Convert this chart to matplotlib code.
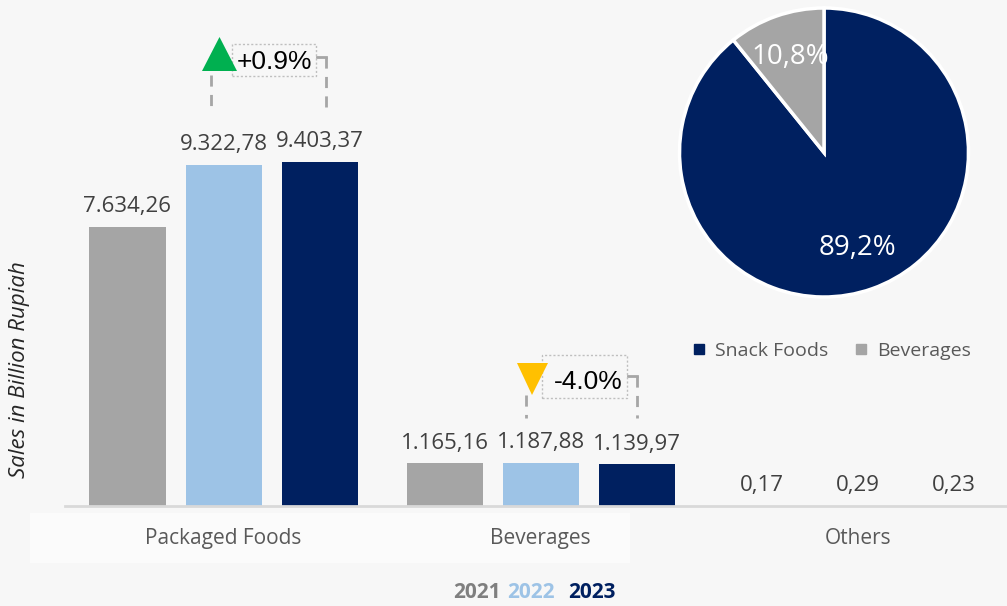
import matplotlib
matplotlib.use("Agg")
import matplotlib.pyplot as plt
from matplotlib.patches import Polygon, Rectangle
from matplotlib.lines import Line2D
import numpy as np

# ---------------- data ----------------
categories = ["Packaged Foods", "Beverages", "Others"]
years = ["2021", "2022", "2023"]
sales_2021 = [7634.26, 1165.16, 0.17]
sales_2022 = [9322.78, 1187.88, 0.29]
sales_2023 = [9403.37, 1139.97, 0.23]
pie_labels = ["Snack Foods", "Beverages"]
pie_values = [89.2, 10.8]

year_colors = ["#a5a5a5", "#9dc3e6", "#002060"]
year_text_colors = ["#7f7f7f", "#9dc3e6", "#002060"]
pie_colors = ["#002060", "#a5a5a5"]

W, H = 1007, 606
fig = plt.figure(figsize=(W / 100, H / 100), dpi=100, facecolor="#f7f7f7")


def px(x, y):
    return (x / W, 1 - y / H)


def fmt_id(v):
    s = f"{v:,.2f}"
    return s.replace(",", "X").replace(".", ",").replace("X", ".")


# light band behind category labels
fig.patches.append(Rectangle(px(30, 563), 600 / W, 50 / H, transform=fig.transFigure,
                             facecolor="#fbfbfb", edgecolor="none", zorder=-2))

# ---------------- bar chart ----------------
ax = fig.add_axes([65 / W, 1 - 506 / H, (W - 65) / W, 506 / H])
ax.set_facecolor("none")
ax.set_zorder(1)
x = np.arange(len(categories))
width = 0.24
offset = 0.303
series = [sales_2021, sales_2022, sales_2023]
for i, (vals, col) in enumerate(zip(series, year_colors)):
    bars = ax.bar(x + (i - 1) * offset, vals, width, color=col, zorder=2)
    ax.bar_label(bars, labels=[fmt_id(v) for v in vals], padding=7,
                 fontsize=16, color="#404040", family="Open Sans")

ax.set_xlim(-0.5, 2.47)
ax.set_ylim(0, 506 / 0.03658)
for s in ["top", "right", "left"]:
    ax.spines[s].set_visible(False)
ax.spines["bottom"].set_color("#d9d9d9")
ax.spines["bottom"].set_linewidth(2)
ax.set_yticks([])
ax.set_xticks(x)
ax.set_xticklabels(categories, fontsize=15, color="#595959", family="Open Sans")
ax.tick_params(axis="x", length=0, pad=16)

fig.text(20 / W, 1 - 370 / H, "Sales in Billion Rupiah", rotation=90, style="italic",
         fontsize=16, color="#262626", family="Open Sans", ha="center", va="center")

# ---------------- change annotations ----------------
def change_annot(tri, tri_color, lx, ly0, ly1, rx, ry0, ry1, box, text_xy, text):
    fig.patches.append(Polygon([px(*p) for p in tri], closed=True, transform=fig.transFigure,
                               facecolor=tri_color, edgecolor="none", zorder=5))
    for (xx, y0, y1) in [(lx, ly0, ly1), (rx, ry0, ry1)]:
        fig.lines.append(Line2D([xx / W, xx / W], [1 - y0 / H, 1 - y1 / H], transform=fig.transFigure,
                                color="#a6a6a6", lw=2, linestyle=(0, (4, 3)), zorder=4))
    fig.lines.append(Line2D([(rx - 9) / W, rx / W], [1 - ry0 / H, 1 - ry0 / H], transform=fig.transFigure,
                            color="#a6a6a6", lw=2, zorder=4))
    bx0, by0, bx1, by1 = box
    fig.patches.append(Rectangle(px(bx0, by1), (bx1 - bx0) / W, (by1 - by0) / H, transform=fig.transFigure,
                                 facecolor="none", edgecolor="#bfbfbf", lw=1, linestyle=(0, (1.5, 1.5)),
                                 zorder=4))
    fig.text(*px(*text_xy), text, fontsize=19, color="#000000", family="Liberation Sans",
             ha="center", va="center", zorder=6)


chg_pf = (sales_2023[0] / sales_2022[0] - 1) * 100
chg_bv = (sales_2023[1] / sales_2022[1] - 1) * 100
change_annot([(202, 71), (237, 71), (219.5, 37)], "#00b050",
             211, 75, 110, 326, 57, 110, (232, 44, 316, 76), (275, 62), f"{chg_pf:+.1f}%")
change_annot([(517, 363), (548, 363), (532, 395)], "#ffc000",
             526, 395, 418, 637, 376, 418, (542, 355, 627, 398), (588, 382), f"{chg_bv:+.1f}%")

# ---------------- pie ----------------
cx, cy, r = 824, 152.5, 144.5
pax = fig.add_axes([(cx - r) / W, 1 - (cy + r) / H, 2 * r / W, 2 * r / H])
wedges, _, autotexts = pax.pie(pie_values, colors=pie_colors, startangle=90, counterclock=False,
                                autopct=lambda p: f"{p:.1f}%".replace(".", ","), pctdistance=0.7,
                                wedgeprops=dict(edgecolor="white", linewidth=2.5))
for t in autotexts:
    t.set_color("white")
    t.set_fontsize(20)
    t.set_family("Open Sans")
pax.set_xlim(-1, 1)
pax.set_ylim(-1, 1)

handles = [Line2D([], [], marker="s", linestyle="none", markersize=7, color=c) for c in pie_colors]
fig.legend(handles, pie_labels, loc="center", bbox_to_anchor=px(830, 351), ncol=2, frameon=False,
           prop=dict(family="Open Sans", size=14), labelcolor="#595959", handletextpad=0.3,
           columnspacing=1.2, handlelength=1.0)

# ---------------- year legend ----------------
for yr, col, xl in zip(years, year_text_colors, [453, 507, 568]):
    fig.text(*px(xl, 592), yr, fontsize=15, fontweight="bold", color=col, family="Open Sans",
             ha="left", va="center")

fig.savefig("out.png", dpi=100, facecolor=fig.get_facecolor())
